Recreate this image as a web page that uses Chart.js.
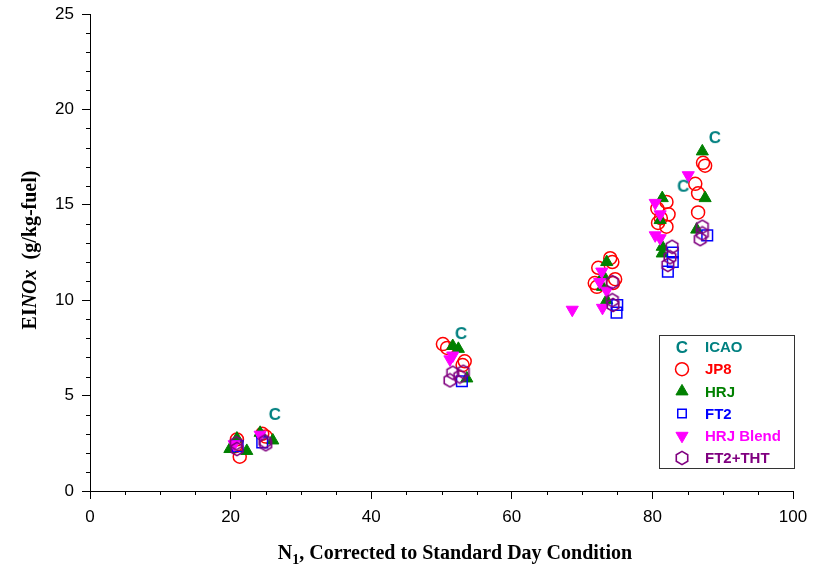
<!DOCTYPE html>
<html>
<head>
<meta charset="utf-8">
<script src="https://cdn.jsdelivr.net/npm/chart.js@4/dist/chart.umd.min.js"></script>
<style>
  body { margin: 0; background: #fff; }
  #wrap { width: 822px; height: 572px; }
</style>
</head>
<body>
<div id="wrap"><canvas id="chart" width="822" height="572"></canvas></div>
<script>
// N1 (corrected) vs EINOx
var icaoX = [26.3, 52.8, 84.4, 88.9];
var icaoY = [4.04, 8.28, 16.0, 18.55];

var jp8X = [20.9, 21.3, 20.7, 24.5, 25.0, 50.2, 50.8, 53.3, 53.0, 74.0, 74.3, 72.3, 71.8, 72.1, 74.7, 74.4, 82.0, 80.7, 82.3, 80.8, 82.0, 81.2, 87.2, 87.5, 86.1, 86.5, 86.5];
var jp8Y = [2.7, 1.8, 2.35, 3.0, 2.85, 7.7, 7.5, 6.8, 6.6, 12.2, 12.0, 11.7, 10.9, 10.7, 11.1, 10.9, 15.15, 14.8, 14.5, 14.05, 13.85, 14.3, 17.2, 17.05, 16.1, 15.6, 14.6];

var hrjX = [19.9, 22.3, 20.9, 24.2, 26.0, 51.6, 52.4, 53.6, 73.5, 72.9, 73.5, 73.0, 81.4, 81.1, 81.4, 81.4, 87.1, 87.5, 86.3];
var hrjY = [2.2, 2.1, 2.75, 3.05, 2.65, 7.6, 7.45, 5.9, 12.0, 10.7, 10.0, 11.3, 15.35, 14.2, 12.8, 12.45, 17.8, 15.35, 13.7];

var ft2X = [21.0, 24.5, 52.9, 75.0, 74.9, 82.9, 82.9, 82.2, 87.8];
var ft2Y = [2.35, 2.55, 5.75, 9.75, 9.35, 12.5, 12.0, 11.5, 13.4];

var blendX = [20.5, 24.2, 51.2, 51.6, 68.6, 72.8, 72.5, 73.5, 72.9, 80.4, 81.1, 80.4, 81.1, 85.1];
var blendY = [2.45, 2.95, 6.9, 7.1, 9.5, 11.5, 10.95, 10.5, 9.6, 15.1, 14.5, 13.4, 13.25, 16.55];

var thtX = [20.9, 20.8, 24.9, 25.0, 51.6, 51.2, 53.1, 52.6, 74.3, 74.3, 74.4, 82.8, 82.5, 82.2, 87.1, 87.1, 86.8];
var thtY = [2.2, 2.5, 2.6, 2.45, 6.2, 5.8, 6.25, 6.0, 10.95, 10.0, 9.75, 12.8, 12.25, 11.85, 13.85, 13.5, 13.2];

var seriesNames = ['ICAO', 'JP8', 'HRJ', 'FT2', 'HRJ Blend', 'FT2+THT'];
var xMajor = 20, xMinor = 5, yMajor = 5, yMinor = 1;

function pts(xs, ys) {
  return xs.map(function (x, i) { return {x: x, y: ys[i]}; });
}

// "C" marker for ICAO
function letterMarker(ch, color) {
  var c = document.createElement('canvas');
  c.width = 18; c.height = 20;
  var g = c.getContext('2d');
  g.fillStyle = color;
  g.font = 'bold 17px "Liberation Sans", Arial, sans-serif';
  g.textAlign = 'center';
  g.textBaseline = 'middle';
  g.fillText(ch, 9, 11);
  return c;
}

// open hexagon marker
function hexMarker(color) {
  var c = document.createElement('canvas');
  c.width = 16; c.height = 16;
  var g = c.getContext('2d');
  g.strokeStyle = color;
  g.lineWidth = 1.6;
  g.beginPath();
  for (var i = 0; i < 6; i++) {
    var a = Math.PI / 2 + i * Math.PI / 3;
    var px = 8 + 6.6 * Math.cos(a), py = 8 + 6.6 * Math.sin(a);
    if (i === 0) g.moveTo(px, py); else g.lineTo(px, py);
  }
  g.closePath();
  g.stroke();
  return c;
}

var teal = '#008080', red = '#ff0000', green = '#008000', blue = '#0000ff', magenta = '#ff00ff', purple = '#800080';
var cImg = letterMarker('C', teal);
var hexImg = hexMarker(purple);

var datasets = [
  {label: seriesNames[0], data: pts(icaoX, icaoY), pointStyle: cImg, order: 0, color: teal},
  {label: seriesNames[1], data: pts(jp8X, jp8Y), pointStyle: 'circle', pointRadius: 6.5, pointBorderWidth: 1.5,
   pointBackgroundColor: 'rgba(0,0,0,0)', pointBorderColor: red, order: 5, color: red},
  {label: seriesNames[2], data: pts(hrjX, hrjY), pointStyle: 'triangle', pointRadius: 7, pointBorderWidth: 1,
   pointBackgroundColor: green, pointBorderColor: green, order: 4, color: green},
  {label: seriesNames[3], data: pts(ft2X, ft2Y), pointStyle: 'rect', pointRadius: 7.5, pointBorderWidth: 1.5,
   pointBackgroundColor: 'rgba(0,0,0,0)', pointBorderColor: blue, order: 3, color: blue},
  {label: seriesNames[4], data: pts(blendX, blendY), pointStyle: 'triangle', pointRotation: 180, pointRadius: 7, pointBorderWidth: 1,
   pointBackgroundColor: magenta, pointBorderColor: magenta, order: 2, color: magenta},
  {label: seriesNames[5], data: pts(thtX, thtY), pointStyle: hexImg, order: 1, color: purple}
];

var tickFont = {family: '"Liberation Sans", Arial, sans-serif', size: 17};
var titleFont = '"Liberation Serif", "Times New Roman", serif';

// minor ticks, axis titles and boxed legend
var extras = {
  id: 'extras',
  afterDraw: function (chart) {
    var ctx = chart.ctx, xs = chart.scales.x, ys = chart.scales.y, area = chart.chartArea;
    ctx.save();
    ctx.strokeStyle = '#000';
    ctx.lineWidth = 1;
    ctx.beginPath();
    for (var v = ys.min; v <= ys.max; v += yMinor) {
      if (v % yMajor === 0) continue;
      var py = Math.round(ys.getPixelForValue(v)) + 0.5;
      ctx.moveTo(area.left - 4, py); ctx.lineTo(area.left, py);
    }
    for (var u = xs.min; u <= xs.max; u += xMinor) {
      if (u % xMajor === 0) continue;
      var px = Math.round(xs.getPixelForValue(u)) + 0.5;
      ctx.moveTo(px, area.bottom); ctx.lineTo(px, area.bottom + 4);
    }
    ctx.stroke();

    // x title with subscript
    ctx.fillStyle = '#000';
    ctx.textBaseline = 'alphabetic';
    ctx.textAlign = 'left';
    var f = 'bold 20px ' + titleFont, fs = 'bold 14px ' + titleFont;
    var p1 = 'N', p2 = '1', p3 = ', Corrected to Standard Day Condition';
    ctx.font = f; var w1 = ctx.measureText(p1).width, w3 = ctx.measureText(p3).width;
    ctx.font = fs; var w2 = ctx.measureText(p2).width;
    var x0 = 455 - (w1 + w2 + w3) / 2, base = 559;
    ctx.font = f; ctx.fillText(p1, x0, base);
    ctx.font = fs; ctx.fillText(p2, x0 + w1, base + 5);
    ctx.font = f; ctx.fillText(p3, x0 + w1 + w2, base);

    // y title, rotated
    ctx.save();
    ctx.translate(36, 250);
    ctx.rotate(-Math.PI / 2);
    var q = [['EI', 'bold 20px '], ['NOx', 'italic bold 20px '], ['  (g/kg-fuel)', 'bold 20px ']];
    var tw = 0;
    q.forEach(function (s) { ctx.font = s[1] + titleFont; s.push(ctx.measureText(s[0]).width); tw += s[2]; });
    var cx = -tw / 2;
    q.forEach(function (s) { ctx.font = s[1] + titleFont; ctx.fillText(s[0], cx, 0); cx += s[2]; });
    ctx.restore();

    // legend box
    var lx = 659, ly = 335, lw = 135, lh = 133;
    ctx.strokeStyle = '#333';
    ctx.lineWidth = 1;
    ctx.strokeRect(lx + 0.5, ly + 0.5, lw, lh);
    ctx.font = 'bold 15px "Liberation Sans", Arial, sans-serif';
    ctx.textBaseline = 'middle';
    chart.data.datasets.forEach(function (ds, i) {
      var rowY = 347 + i * 22.2;
      ctx.fillStyle = ds.pointBackgroundColor || ds.color;
      ctx.strokeStyle = ds.pointBorderColor || ds.color;
      ctx.lineWidth = ds.pointBorderWidth || 1;
      Chart.helpers.drawPoint(ctx, {
        pointStyle: ds.pointStyle,
        radius: ds.pointStyle === 'rect' ? 6 : (ds.pointRadius || 6),
        rotation: ds.pointRotation || 0,
        borderWidth: ds.pointBorderWidth || 1
      }, 682, rowY);
      ctx.fillStyle = ds.color;
      ctx.fillText(ds.label, 705, rowY + 1);
    });
    ctx.restore();
  }
};

new Chart(document.getElementById('chart'), {
  type: 'scatter',
  data: {datasets: datasets},
  options: {
    responsive: false,
    animation: false,
    layout: {padding: {top: 14, right: 29, left: 0, bottom: 0}},
    plugins: {legend: {display: false}, tooltip: {enabled: false}},
    scales: {
      x: {
        type: 'linear', min: 0, max: 100,
        afterFit: function (s) { s.height = 81; s.paddingLeft = 0; s.paddingRight = 0; },
        ticks: {stepSize: xMajor, font: tickFont, color: '#000', padding: 8},
        grid: {drawOnChartArea: false, tickLength: 8, color: '#000'},
        border: {color: '#000', width: 1}
      },
      y: {
        type: 'linear', min: 0, max: 25,
        afterFit: function (s) { s.width = 90; s.paddingTop = 0; s.paddingBottom = 0; },
        ticks: {stepSize: yMajor, font: tickFont, color: '#000', padding: 8},
        grid: {drawOnChartArea: false, tickLength: 8, color: '#000'},
        border: {color: '#000', width: 1}
      }
    }
  },
  plugins: [extras]
});
</script>
</body>
</html>
